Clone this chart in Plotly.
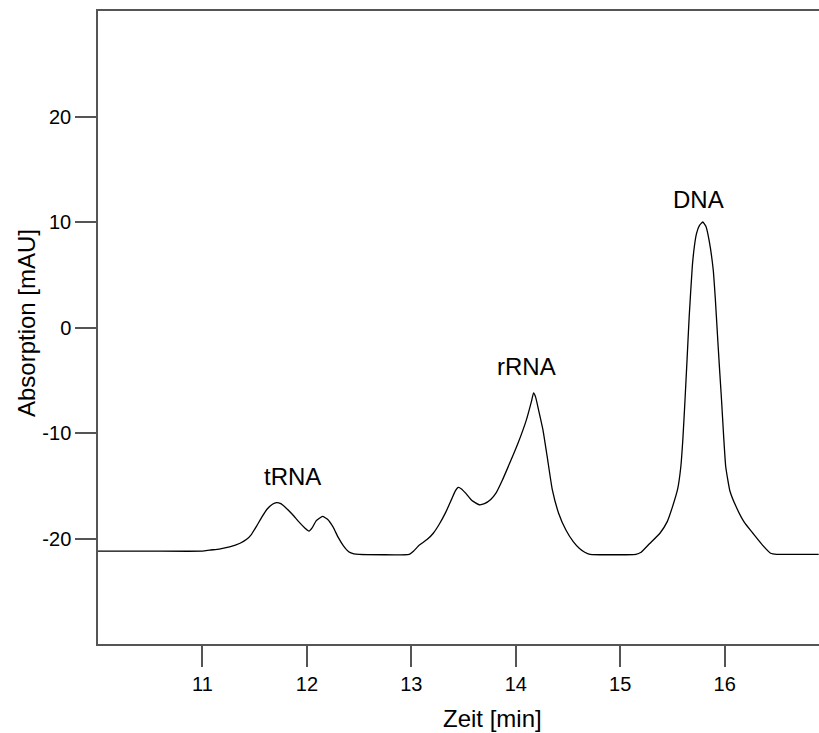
import plotly.graph_objects as go

# Chromatogram trace
time_min = [10.0, 10.5, 11.0, 11.07, 11.16, 11.26, 11.36, 11.42, 11.47, 11.52, 11.57, 11.62,
            11.67, 11.71, 11.75, 11.80, 11.86, 11.93, 11.98, 12.02, 12.05, 12.09, 12.15,
            12.20, 12.25, 12.30, 12.35, 12.40, 12.45, 12.5,
            12.98, 13.02, 13.08, 13.15, 13.21, 13.27, 13.33, 13.38, 13.42, 13.45, 13.48,
            13.52, 13.58, 13.65, 13.70, 13.76, 13.81, 13.87, 13.94, 14.02, 14.10, 14.15,
            14.17, 14.19, 14.22, 14.26, 14.30, 14.35, 14.41, 14.48, 14.55, 14.61, 14.66,
            14.71, 15.15, 15.20, 15.28, 15.38, 15.45, 15.50, 15.55, 15.58, 15.60, 15.62,
            15.64, 15.66, 15.69, 15.71, 15.73, 15.76, 15.79, 15.82, 15.85, 15.89, 15.91,
            15.93, 15.95, 15.97, 15.99, 16.01, 16.05, 16.11, 16.19, 16.27, 16.36, 16.44,
            16.5, 16.9]
absorption = [-21.2, -21.2, -21.2, -21.1, -21.0, -20.8, -20.45, -20.1, -19.6, -18.8, -17.95, -17.2,
              -16.75, -16.6, -16.7, -17.1, -17.7, -18.5, -19.0, -19.3, -19.0, -18.3, -17.9,
              -18.2, -18.9, -19.9, -20.7, -21.25, -21.45, -21.5,
              -21.5, -21.2, -20.6, -20.1, -19.5, -18.6, -17.5, -16.4, -15.5, -15.15, -15.3,
              -15.7, -16.4, -16.8, -16.7, -16.3, -15.7, -14.5, -12.9, -11.0, -8.8, -7.0,
              -6.2, -6.6, -7.9, -9.7, -12.2, -15.4, -17.6, -19.2, -20.3, -20.95, -21.3,
              -21.5, -21.5, -21.3, -20.5, -19.5, -18.4, -17.0, -15.3, -13.2, -10.5, -6.9,
              -3.0, 1.0, 5.8, 7.7, 8.9, 9.7, 10.0, 9.6, 8.3, 5.5, 2.8,
              -0.55, -3.8, -6.9, -10.3, -13.2, -15.5, -17.0, -18.5, -19.5, -20.6, -21.4,
              -21.5, -21.5]

peak_labels = ["tRNA", "rRNA", "DNA"]
peak_label_x = [11.86, 14.10, 15.75]
peak_label_y = [-14.1, -3.7, 12.1]

x_ticks = [11, 12, 13, 14, 15, 16]
y_ticks = [-20, -10, 0, 10, 20]
y_tick_text = ["-20", "-10", "0", "10", "20"]

FONT = "Liberation Sans, Arial, sans-serif"
AXC = "#555555"

fig = go.Figure()
fig.add_trace(go.Scatter(x=time_min, y=absorption, mode="lines",
                         line=dict(color="black", width=1.3, shape="spline", smoothing=0.4),
                         showlegend=False, hoverinfo="skip"))

for t, xx, yy in zip(peak_labels, peak_label_x, peak_label_y):
    fig.add_annotation(x=xx, y=yy, text=t, showarrow=False,
                       font=dict(family=FONT, size=24, color="black"),
                       xanchor="center", yanchor="middle")

fig.add_annotation(xref="paper", yref="paper", x=0.5474, y=-0.117, text="Zeit [min]",
                   showarrow=False, font=dict(family=FONT, size=24, color="black"),
                   xanchor="center", yanchor="middle")
fig.add_annotation(xref="paper", yref="paper", x=-0.0999, y=0.507, text="Absorption [mAU]",
                   showarrow=False, textangle=-90, font=dict(family=FONT, size=24, color="black"),
                   xanchor="center", yanchor="middle")

fig.update_layout(
    width=819, height=733,
    margin=dict(l=98, r=0, t=11, b=89),
    paper_bgcolor="white", plot_bgcolor="white",
    font=dict(family=FONT, size=20, color="black"),
)
fig.update_xaxes(range=[10.0, 16.903], tickvals=x_ticks, ticks="outside", ticklen=21,
                 tickwidth=1.5, tickcolor=AXC, showline=True, linecolor=AXC, linewidth=1.5,
                 mirror=True, showgrid=False, zeroline=False,
                 tickfont=dict(family=FONT, size=20, color="black"))
fig.update_yaxes(range=[-30, 30], tickvals=y_ticks, ticktext=y_tick_text, ticks="outside",
                 ticklen=21, tickwidth=1.5, tickcolor=AXC, showline=True, linecolor=AXC,
                 linewidth=1.5, showgrid=False, zeroline=False,
                 tickfont=dict(family=FONT, size=20, color="black"))

fig.write_html("out.html")
